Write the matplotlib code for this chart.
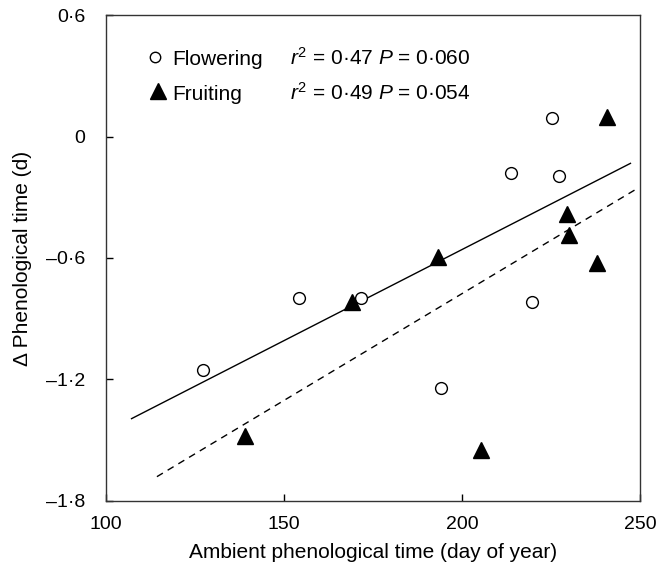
import matplotlib
matplotlib.use("Agg")
import matplotlib.pyplot as plt

plt.rcParams['font.family'] = ['Liberation Sans', 'DejaVu Sans']
plt.rcParams['mathtext.fontset'] = 'custom'
plt.rcParams['mathtext.rm'] = 'Liberation Sans'
plt.rcParams['mathtext.it'] = 'Liberation Sans:italic'

# Data
flower_x = [127.2, 154.2, 171.6, 194.1, 213.8, 225.3, 227.2, 219.7]
flower_y = [-1.153, -0.80, -0.80, -1.24, -0.18, 0.09, -0.195, -0.817]
fruit_x = [139.0, 169.1, 193.3, 205.3, 229.5, 230.1, 237.9, 240.7]
fruit_y = [-1.479, -0.817, -0.595, -1.548, -0.383, -0.486, -0.625, 0.096]
flower_fit_x = [107.0, 247.5]
flower_fit_y = [-1.395, -0.131]
fruit_fit_x = [114.3, 249.5]
fruit_fit_y = [-1.68, -0.254]

xticks = [100, 150, 200, 250]
xticklabels = ['100', '150', '200', '250']
yticks = [0.6, 0, -0.6, -1.2, -1.8]
yticklabels = ['0·6', '0', '–0·6', '–1·2', '–1·8']

fig = plt.figure(figsize=(6.58, 5.73), dpi=100)
ax = fig.add_axes([0.1611, 0.1257, 0.8115, 0.8481])

ax.plot(flower_fit_x, flower_fit_y, color='black', lw=1.0, solid_capstyle='butt')
ax.plot(fruit_fit_x, fruit_fit_y, color='black', lw=1.0, ls=(0, (5, 4)))
ax.plot(flower_x, flower_y, 'o', mfc='white', mec='black', mew=1.0, ms=8.5, ls='none', zorder=3)
ax.plot(fruit_x, fruit_y, '^', color='black', ms=11.5, ls='none', zorder=3)

ax.set_xlim(100, 250)
ax.set_ylim(-1.8, 0.6)
ax.set_xticks(xticks)
ax.set_xticklabels(xticklabels)
ax.set_yticks(yticks)
ax.set_yticklabels(yticklabels)
ax.tick_params(axis='both', direction='in', length=5, width=1, labelsize=14, colors='black')
ax.tick_params(axis='x', pad=11)
ax.tick_params(axis='y', pad=15)
for s in ax.spines.values():
    s.set_linewidth(1.0)
    s.set_color('#333333')

ax.set_xlabel('Ambient phenological time (day of year)', fontsize=15, labelpad=7)
ax.set_ylabel('Δ Phenological time (d)', fontsize=15, labelpad=10)

# Legend
ax.plot([0.092], [0.914], 'o', mfc='white', mec='black', mew=1.0, ms=7.5, transform=ax.transAxes, clip_on=False)
ax.plot([0.097], [0.843], '^', color='black', ms=12, transform=ax.transAxes, clip_on=False)
ax.text(0.1236, 0.897, 'Flowering', transform=ax.transAxes, va='baseline', ha='left', fontsize=15)
ax.text(0.1236, 0.825, 'Fruiting', transform=ax.transAxes, va='baseline', ha='left', fontsize=15)
ax.text(0.345, 0.897, r'$\mathit{r}^2$ = 0·47 $\mathit{P}$ = 0·060', transform=ax.transAxes, va='baseline', ha='left', fontsize=15)
ax.text(0.345, 0.825, r'$\mathit{r}^2$ = 0·49 $\mathit{P}$ = 0·054', transform=ax.transAxes, va='baseline', ha='left', fontsize=15)

fig.savefig('out.png', dpi=100)
